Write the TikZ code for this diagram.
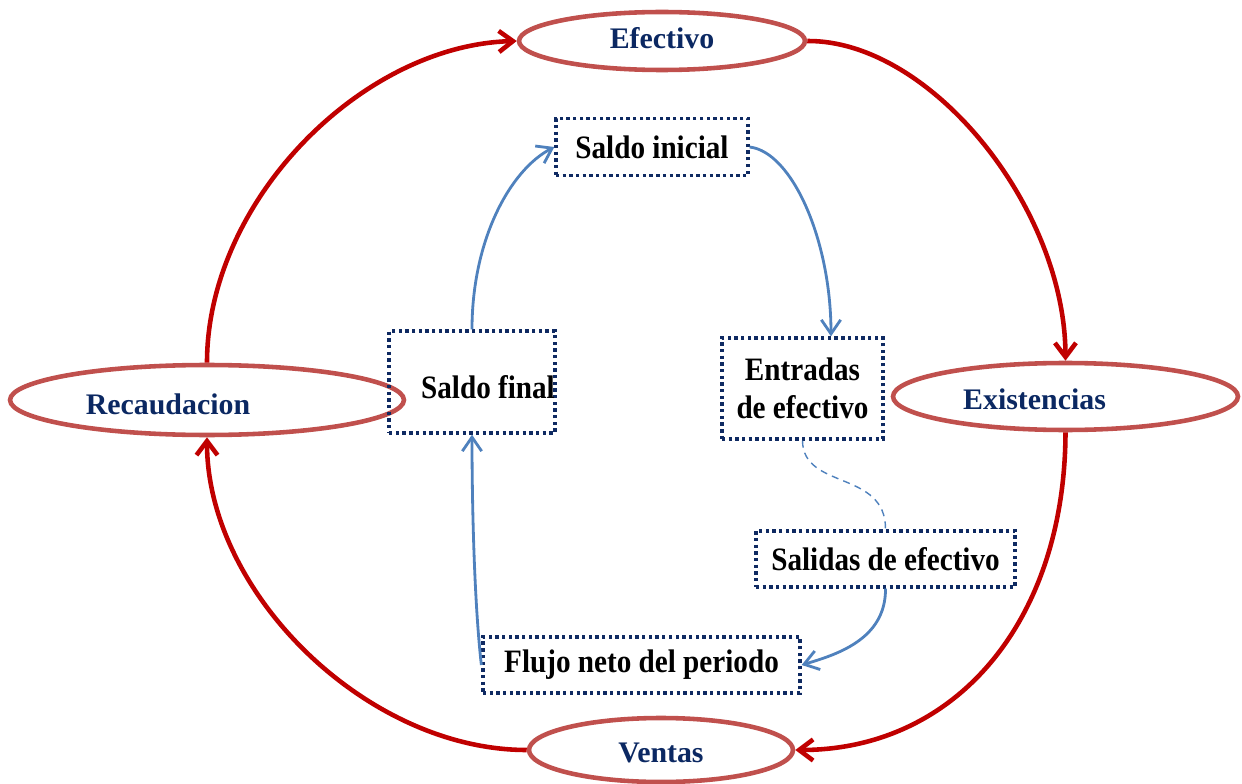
\documentclass[tikz,border=0pt]{standalone}
\usepackage{fontspec}
\setmainfont{Liberation Serif}
\usepackage{graphicx}
\usetikzlibrary{shapes.geometric,arrows.meta}
\definecolor{redarrow}{HTML}{C00000}
\definecolor{ellred}{HTML}{C0504D}
\definecolor{txtnavy}{HTML}{0B2862}
\definecolor{boxnavy}{HTML}{0F2A62}
\definecolor{bluearrow}{HTML}{4F81BD}
\newcommand\tallbx[1]{\scalebox{1}[1.12]{#1}}
\newcommand\shiftv[2]{\raisebox{#1}[\height][\depth]{#2}}
\tikzset{
  ellnode/.style={ellipse, draw=ellred, line width=2.6pt, inner sep=0pt,
    text=txtnavy, font=\fontsize{17}{20}\selectfont\bfseries},
  boxnode/.style={rectangle, draw=boxnavy, line width=1.9pt,
    dash pattern=on 1.9pt off 1.9pt, inner sep=0pt,
    font=\fontsize{16.6}{21.5}\selectfont\bfseries, align=center},
  redarr/.style={draw=redarrow, line width=2.6pt,
    -{Straight Barb[length=8pt,width=12pt]}},
  bluearr/.style={draw=bluearrow, line width=1.6pt,
    -{Straight Barb[length=8pt,width=11pt]}},
  dashconn/.style={draw=bluearrow, line width=0.8pt, dash pattern=on 4pt off 3pt},
}
\begin{document}
\begin{tikzpicture}[x=0.02cm,y=-0.02cm]
\useasboundingbox (0,0) rectangle (1242,784);
% ellipses
\node[ellnode, minimum width=5.72cm, minimum height=1.16cm] (efe) at (662,41) {\shiftv{0.06cm}{Efectivo}};
\node[ellnode, minimum width=6.9cm, minimum height=1.34cm] (exi) at (1065.5,396.5) {\shiftv{-0.06cm}{Existencias}\hspace*{1.24cm}};
\node[ellnode, minimum width=5.28cm, minimum height=1.28cm] (ven) at (661,750) {\shiftv{-0.05cm}{Ventas}};
\node[ellnode, minimum width=7.88cm, minimum height=1.4cm] (rec) at (207,400) {\shiftv{-0.09cm}{Recaudacion}\hspace*{1.56cm}};
% boxes
\node[boxnode, minimum width=3.84cm, minimum height=1.14cm] (sini) at (652,147) {\tallbx{Saldo inicial}};
\node[boxnode, minimum width=3.22cm, minimum height=2.02cm] (ent) at (802.5,388.5) {\tallbx{Entradas}\\\tallbx{de efectivo}};
\node[boxnode, minimum width=3.24cm, minimum height=2.04cm] (sfin) at (472,382) {\hspace*{0.64cm}\shiftv{-0.1cm}{\tallbx{Saldo final}}};
\node[boxnode, minimum width=5.18cm, minimum height=1.12cm] (sal) at (885.5,559) {\tallbx{Salidas de efectivo}};
\node[boxnode, minimum width=6.34cm, minimum height=1.12cm] (flu) at (641.5,665) {\tallbx{Flujo neto del periodo}};
% red cycle
\draw[redarr] (rec.north) .. controls (207,201) and (362,45) .. (efe.west);
\draw[redarr] (efe.east) .. controls (930,40) and (1065,207) .. (exi.north);
\draw[redarr] (exi.south) .. controls (1065,621) and (956,750) .. (ven.east);
\draw[redarr] (ven.west) .. controls (367,750) and (207,593) .. (rec.south);
% blue cycle
\draw[bluearr] (sfin.north) .. controls (472,240) and (510,170) .. (sini.west);
\draw[bluearr] (sini.east) .. controls (792,152) and (831,240) .. ([xshift=0.57cm]ent.north);
\draw[dashconn] (ent.south) .. controls (803,490) and (886,470) .. (sal.north);
\draw[bluearr] (sal.south) .. controls (886,640) and (835,655) .. (flu.east);
\draw[bluearr] (flu.west) .. controls (474,600) and (472,500) .. (sfin.south);
\end{tikzpicture}
\end{document}
